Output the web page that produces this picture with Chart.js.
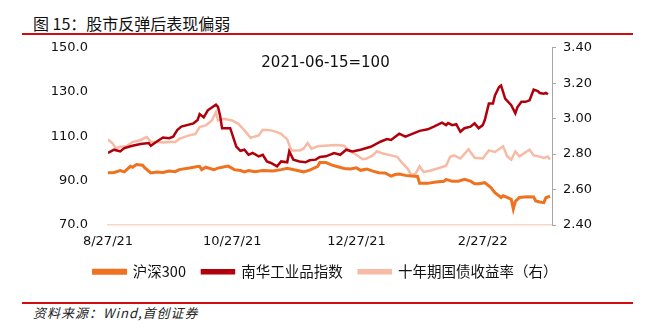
<!DOCTYPE html>
<html>
<head>
<meta charset="utf-8">
<script src="https://cdn.jsdelivr.net/npm/chart.js@4/dist/chart.umd.min.js"></script>
<style>
  body { margin: 0; background: #fff; }
  #wrap { position: relative; width: 651px; height: 329px; overflow: hidden; font-family: "Noto Sans CJK SC", sans-serif; }
  #heading { position: absolute; left: 33px; top: 12px; font-size: 16px; line-height: 22px; color: #111; }
  .rule { position: absolute; left: 22px; width: 611px; height: 2px; background: #d20a11; }
  #note { position: absolute; left: 0; width: 651px; top: 53px; text-align: center; font: 15px "DejaVu Sans", sans-serif; line-height: 18px; color: #111; }
  #source { position: absolute; left: 33px; top: 304px; font-size: 13px; line-height: 18px; font-style: italic; letter-spacing: 1px; color: #222; }
  #box { position: absolute; left: 0; top: 20px; width: 651px; height: 269px; }
</style>
</head>
<body>
<div id="wrap">
  <div id="heading">图 15：股市反弹后表现偏弱</div>
  <div class="rule" style="top:33px"></div>
  <div id="box"><canvas id="lineChart"></canvas></div>
  <div id="note">2021-06-15=100</div>
  <div class="rule" style="top:302px"></div>
  <div id="source">资料来源：Wind,首创证券</div>
</div>
<script>
// x values are days counted from 2021-08-27
const tickDays = [0, 61, 122, 184];
const tickLabels = ['8/27/21', '10/27/21', '12/27/21', '2/27/22'];

const hs300Days = [0,3,6,8,11,12,14,17,18,21,24,27,30,33,35,40,44,45,46,48,52,54,56,59,62,65,67,69,72,76,81,85,88,93,96,99,103,104,107,110,112,116,119,122,124,127,130,133,136,139,141,143,146,149,152,153,157,161,165,166,169,172,175,178,180,182,185,188,190,193,194,196,198,199,200,202,206,209,210,212,214,215,217];
const hs300 = [93.6,93.7,94.6,94.0,96.5,96.1,97.3,97.0,95.9,93.5,93.9,93.7,94.4,94.1,95.0,95.7,96.4,96.4,95.0,96.1,95.0,95.7,96.1,96.6,95.0,94.6,94.0,94.6,94.0,94.6,94.4,95.0,95.6,94.6,94.0,94.8,96.5,98.2,98.2,97.0,96.5,95.5,95.3,95.8,94.7,95.3,94.3,93.6,93.5,92.1,92.8,93.0,92.4,92.1,91.9,88.8,88.8,89.4,89.7,90.6,89.7,89.8,90.6,89.8,88.6,88.6,89.1,86.9,84.6,82.4,83.2,82.5,81.6,77.2,80.7,82.4,82.7,82.6,80.9,80.4,80.1,82.3,83.0];

const nanhuaDays = [0,3,6,8,12,16,20,21,24,27,30,32,34,36,42,44,45,47,49,53,54,55,56,60,63,65,67,69,71,74,76,78,80,83,85,88,89,91,94,97,99,102,104,107,111,114,117,120,124,129,134,137,139,143,146,150,153,157,160,164,166,167,169,171,173,175,178,180,182,184,185,187,189,190,192,193,195,198,200,201,203,205,207,209,211,212,214,215,216];
const nanhua = [102.5,104.0,103.2,104.7,105.8,106.6,107.0,105.8,107.7,109.5,109.2,109.9,112.9,114.4,115.9,117.4,120.1,118.6,121.8,124.3,123.3,119.6,113.7,113.7,105.4,103.5,104.0,101.7,102.5,101.0,101.7,98.7,98.0,96.5,98.7,98.3,103.2,99.5,98.7,98.3,99.2,99.5,100.7,101.0,102.5,101.7,104.0,103.2,104.0,105.3,107.7,108.8,108.4,111.2,109.9,111.4,112.5,113.2,114.4,116.2,115.1,116.0,115.1,115.5,112.1,113.7,114.4,115.9,113.7,115.1,117.4,124.8,124.8,128.5,132.3,133.0,127.1,124.1,120.4,123.1,125.6,125.6,126.3,131.1,130.5,129.6,129.3,129.6,129.0];

const yieldDays = [0,2,4,6,9,12,16,19,21,24,27,30,33,35,39,43,45,48,51,53,54,57,61,64,67,70,74,76,80,83,85,88,90,94,96,98,100,103,108,112,116,118,121,125,127,130,132,135,139,142,144,147,149,151,153,155,158,163,166,168,170,173,177,180,184,187,190,194,196,198,200,202,207,209,212,214,216,217];
const bondYield = [2.883,2.863,2.833,2.841,2.844,2.868,2.880,2.896,2.869,2.869,2.866,2.869,2.869,2.886,2.903,2.914,2.953,2.962,2.990,3.037,2.990,3.000,2.990,2.971,2.934,2.892,2.906,2.937,2.934,2.924,2.915,2.883,2.821,2.821,2.831,2.863,2.831,2.844,2.848,2.852,2.847,2.821,2.803,2.771,2.775,2.793,2.816,2.803,2.793,2.785,2.756,2.720,2.681,2.690,2.731,2.699,2.706,2.723,2.734,2.785,2.793,2.775,2.828,2.779,2.775,2.821,2.812,2.844,2.788,2.768,2.815,2.788,2.825,2.793,2.786,2.778,2.786,2.769];

const orange = 'rgb(238,114,32)';
const darkRed = 'rgb(176,0,12)';
const pink = 'rgb(247,187,165)';

function pts(days, vals) {
  return days.map((d, i) => ({ x: d, y: vals[i] }));
}

const ctx = document.getElementById('lineChart').getContext('2d');
const chart = new Chart(ctx, {
  type: 'line',
  data: {
    datasets: [
      { label: '沪深300', data: pts(hs300Days, hs300), borderColor: orange, backgroundColor: orange, borderWidth: 3, yAxisID: 'y' },
      { label: '南华工业品指数', data: pts(nanhuaDays, nanhua), borderColor: darkRed, backgroundColor: darkRed, borderWidth: 2.5, yAxisID: 'y' },
      { label: '十年期国债收益率（右）', data: pts(yieldDays, bondYield), borderColor: pink, backgroundColor: pink, borderWidth: 2.5, yAxisID: 'y1' }
    ]
  },
  options: {
    responsive: true,
    maintainAspectRatio: false,
    animation: false,
    elements: { point: { radius: 0 }, line: { tension: 0 } },
    layout: { padding: { top: 9, bottom: 0, left: 0, right: 0 } },
    plugins: {
      tooltip: { enabled: false },
      legend: {
        position: 'bottom',
        labels: {
          boxWidth: 32,
          boxHeight: 3,
          padding: 16,
          color: '#111',
          font: { family: '"Noto Sans CJK SC", sans-serif', size: 14.5 }
        }
      }
    },
    scales: {
      x: {
        type: 'linear',
        min: 0,
        max: 218,
        afterBuildTicks: s => { s.ticks = tickDays.map(v => ({ value: v })); },
        afterFit: s => { s.height = 23.5; },
        grid: { display: false, drawTicks: false },
        border: { display: true, color: 'rgb(250,214,196)', width: 1.5 },
        ticks: {
          autoSkip: false,
          maxRotation: 0,
          padding: 9,
          color: '#111',
          font: { family: '"DejaVu Sans", sans-serif', size: 13 },
          callback: v => tickLabels[tickDays.indexOf(v)]
        }
      },
      y: {
        position: 'left',
        min: 70,
        max: 150,
        afterFit: s => { s.width = 108; },
        grid: { display: false, drawTicks: false },
        border: { display: false },
        ticks: {
          stepSize: 20,
          padding: 20,
          color: '#111',
          font: { family: '"DejaVu Sans", sans-serif', size: 13 },
          callback: v => v.toFixed(1)
        }
      },
      y1: {
        position: 'right',
        min: 2.4,
        max: 3.4,
        afterFit: s => { s.width = 99; },
        grid: { display: true, drawOnChartArea: false, drawTicks: true, tickLength: 4, color: '#a6a6a6' },
        border: { display: true, color: '#a6a6a6', width: 1 },
        ticks: {
          stepSize: 0.2,
          padding: 7,
          color: '#111',
          font: { family: '"DejaVu Sans", sans-serif', size: 13 },
          callback: v => v.toFixed(2)
        }
      }
    }
  }
});
</script>
</body>
</html>
